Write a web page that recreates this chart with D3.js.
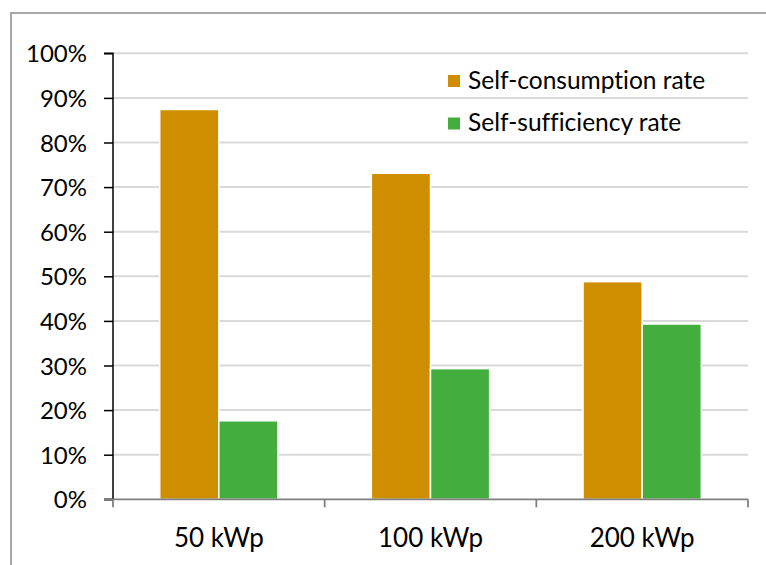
<!DOCTYPE html>
<html><head><meta charset="utf-8">
<script src="https://cdn.jsdelivr.net/npm/d3@7"></script>
<style>html,body{margin:0;padding:0;background:#fff;}svg{display:block;}text{font-variant-ligatures:none;font-feature-settings:"liga" 0;}</style>
</head><body>
<script>
const categories = ["50 kWp", "100 kWp", "200 kWp"];
const seriesNames = ["Self-consumption rate", "Self-sufficiency rate"];
const selfConsumption = [87.4, 73.1, 48.8];
const selfSufficiency = [17.6, 29.3, 39.3];
const yTicks = [0, 10, 20, 30, 40, 50, 60, 70, 80, 90, 100];
const colors = ["#CF8E00", "#43AD3D"];

(function(){
const W = 766, H = 565;
const svg = d3.select("body").append("svg").attr("width", W).attr("height", H);
const FONT = "Lato, 'Open Sans', sans-serif";

// outer frame
svg.append("rect").attr("x", 11).attr("y", 13).attr("width", 800).attr("height", 600)
  .attr("fill", "none").attr("stroke", "#7a7a7a").attr("stroke-width", 1.3);

const pL = 113, pR = 748, pT = 53.3, pB = 499.3;
const x0 = d3.scaleBand().domain(categories).range([pL, pR]).paddingInner(0).paddingOuter(0);
const x1 = d3.scaleBand().domain(seriesNames).range([0, x0.bandwidth()]).paddingOuter(0.79).paddingInner(0);
const y = d3.scaleLinear().domain([0, 100]).range([pB, pT]);

// gridlines
svg.append("g").selectAll("line").data(yTicks.filter(d => d > 0)).join("line")
  .attr("x1", pL).attr("x2", pR).attr("y1", d => y(d)).attr("y2", d => y(d))
  .attr("stroke", "#d9d9d9").attr("stroke-width", 2);

// bars
const data = categories.map((c, i) => ({c, vals: [selfConsumption[i], selfSufficiency[i]]}));
const g = svg.append("g");
data.forEach(d => {
  d.vals.forEach((v, j) => {
    g.append("rect")
      .attr("x", x0(d.c) + x1(seriesNames[j]))
      .attr("y", y(v))
      .attr("width", x1.bandwidth())
      .attr("height", y(0) - y(v))
      .attr("fill", colors[j])
      .attr("stroke", "#fff").attr("stroke-width", 1.5);
  });
});

// y axis
const yAxis = d3.axisLeft(y).tickValues(yTicks).tickFormat(d => d + "%").tickSize(9).tickPadding(17);
const ya = svg.append("g").attr("transform", `translate(${pL},0)`).call(yAxis);
ya.select(".domain").attr("stroke", "#000").attr("stroke-width", 1.5).attr("d", `M-9,${pT}H0V${pB}H-9`);
ya.selectAll(".tick line").attr("stroke", "#000").attr("stroke-width", 1.5);
ya.selectAll("text").attr("font-family", FONT).attr("font-size", 24).attr("fill", "#000").attr("dy", "0.36em");

// x axis
const xa = svg.append("g").attr("transform", `translate(0,${pB})`);
xa.append("line").attr("x1", pL - 9).attr("x2", pR).attr("y1", 0).attr("y2", 0)
  .attr("stroke", "#7f7f7f").attr("stroke-width", 1.8);
const tickPos = categories.map(c => x0(c)).concat([pR]);
xa.selectAll("line.t").data(tickPos).join("line").attr("class", "t")
  .attr("x1", d => d).attr("x2", d => d).attr("y1", 0).attr("y2", 8)
  .attr("stroke", "#7f7f7f").attr("stroke-width", 1.8);
xa.selectAll("text").data(categories).join("text")
  .attr("x", d => x0(d) + x0.bandwidth() / 2).attr("y", 48)
  .attr("text-anchor", "middle").attr("font-family", FONT).attr("font-size", 26).attr("fill", "#000")
  .text(d => d);

// legend
const lg = svg.append("g");
seriesNames.forEach((s, i) => {
  const yy = 75 + i * 42.5;
  lg.append("rect").attr("x", 448).attr("y", yy).attr("width", 12).attr("height", 12).attr("fill", colors[i]);
  lg.append("text").attr("x", 468).attr("y", yy + 13.5).attr("font-family", FONT).attr("font-size", 24.5)
    .attr("fill", "#000").text(s);
});
})();
</script>
</body></html>
